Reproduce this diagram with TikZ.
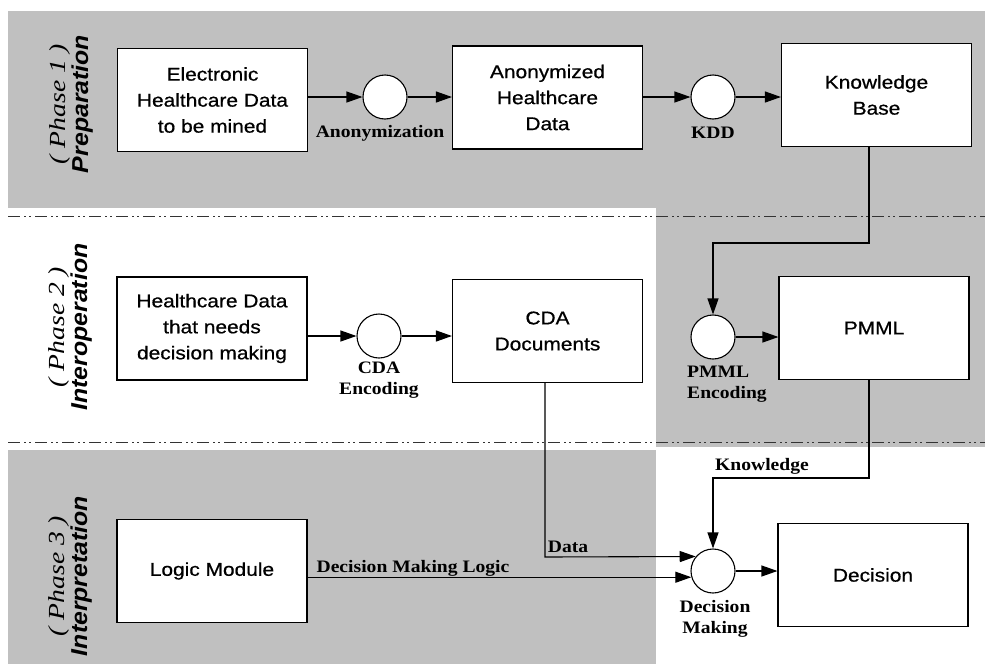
\documentclass[tikz,border=0pt]{standalone}
\usepackage{fontspec}
\setmainfont{Liberation Serif}
\newfontfamily\boxf[FakeStretch=1.13,FakeBold=0.7]{Liberation Sans}
\newfontfamily\labf[FakeStretch=1.12]{Liberation Serif}
\newfontfamily\phs[FakeStretch=1.2]{Liberation Serif}
\newfontfamily\phn[FakeStretch=1.08]{Liberation Sans}
\usetikzlibrary{arrows.meta}
\definecolor{bg}{RGB}{192,192,192}
\tikzset{
  proc/.style={draw, line width=1.1pt, fill=white, inner sep=0pt,
    minimum width=190pt, minimum height=103pt,
    font=\boxf\fontsize{18.5}{26}\selectfont, align=center},
  op/.style={circle, draw, line width=1.1pt, fill=white, minimum size=44pt, inner sep=0pt},
  lab/.style={font=\labf\bfseries\fontsize{17.5}{21}\selectfont, align=center, inner sep=0pt},
  flow/.style={line width=1.1pt, -{Triangle[length=16pt,width=11pt]}},
  sepline/.style={line width=1pt, black!80, dash pattern=on 12pt off 4pt on 2pt off 3pt on 2pt off 4pt},
  phase/.style={rotate=90, align=center, inner sep=0pt, font=\fontsize{23}{23}\selectfont},
  band/.style={fill=bg, draw=none}
}
\begin{document}
\begin{tikzpicture}[x=1pt,y=-1pt]
\useasboundingbox (0,0) rectangle (985,664);
\fill[white] (0,0) rectangle (985,664);
% bands
\path[band] (8,11) rectangle (985,208);
\path[band] (656,208) rectangle (985,447);
\path[band] (8,450) rectangle (656,664);
\coordinate (s1a) at (8,216); \coordinate (s1b) at (985,216);
\coordinate (s2a) at (8,442); \coordinate (s2b) at (985,442);
\draw[sepline] (s1a) -- (s1b);
\draw[sepline] (s2a) -- (s2b);

% phase labels
\node[phase] (ph1) at (71,104) {{\phs\itshape ( Phase 1 )}\\{\phn\bfseries\itshape Preparation}};
\node[phase] (ph2) at (70,327) {{\phs\itshape ( Phase 2 )}\\{\phn\bfseries\itshape Interoperation}};
\node[phase] (ph3) at (70,576) {{\phs\itshape ( Phase 3 )}\\{\phn\bfseries\itshape Interpretation}};

% boxes
\node[proc] (e)   at (212.5,100) {Electronic\\Healthcare Data\\to be mined};
\node[proc] (a)   at (547.5,97.5) {Anonymized\\Healthcare\\Data};
\node[proc] (k)   at (876.5,95) {Knowledge\\Base};
\node[proc] (hc)  at (212,328.5) {Healthcare Data\\that needs\\decision making};
\node[proc] (cda) at (547.5,331) {CDA\\Documents};
\node[proc] (p)   at (874,328) {PMML};
\node[proc] (lm)  at (212,571) {Logic Module};
\node[proc] (d)   at (873,575) {Decision};

% operations
\node[op] (c1) at (385,97) {};
\node[op] (c2) at (713,97) {};
\node[op] (c3) at (379,336) {};
\node[op] (c4) at (713,337) {};
\node[op] (c5) at (713,571) {};

% labels
\node[lab] (l1) at (380,133) {Anonymization};
\node[lab] (l2) at (713,133) {KDD};
\node[lab] (l3) at (379,380) {CDA\\Encoding};
\node[lab, align=left, anchor=north west] (l4) at (687,366) {PMML\\Encoding};
\node[lab] (l5) at (715,619) {Decision\\Making};
\node[lab] (l6) at (762,466) {Knowledge};
\node[lab] (l7) at (568,547) {Data};
\node[lab] (l8) at (413,568) {Decision Making Logic};

% flows
\draw[flow] (c1 -| e.east) -- (c1.west);
\draw[flow] (c1.east) -- (c1 -| a.west);
\draw[flow] (c2 -| a.east) -- (c2.west);
\draw[flow] (c2.east) -- (c2 -| k.west);
\coordinate (kb) at (869,243);
\draw[flow] (kb |- k.south) -- (kb) -| (c4.north);
\draw[flow] (c4.east) -- (c4 -| p.west);
\draw[flow] (c3 -| hc.east) -- (c3.west);
\draw[flow] (c3.east) -- (c3 -| cda.west);
\coordinate (pb) at (869,478);
\draw[flow] (pb |- p.south) -- (pb) -| (c5.north);
\coordinate (cb) at (545,557);
\draw[flow] (cb |- cda.south) -- (cb) -- (c5.140);
\draw[flow] (c5.196 -| lm.east) -- (c5.196);
\draw[flow] (c5.east) -- (c5 -| d.west);
\end{tikzpicture}
\end{document}
